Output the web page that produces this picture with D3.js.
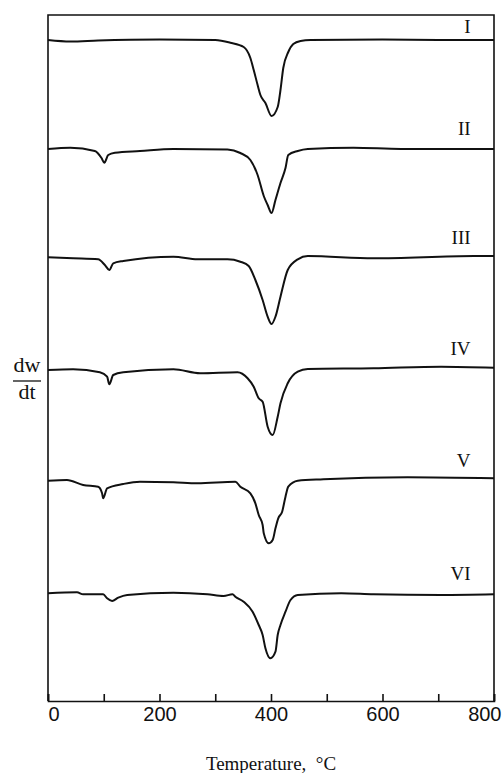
<!DOCTYPE html>
<html>
<head>
<meta charset="utf-8">
<script src="https://cdn.jsdelivr.net/npm/d3@7"></script>
<style>
  body { margin: 0; background: #fff; }
  svg { display: block; font-family: "Liberation Serif", "DejaVu Serif", serif; }
  .frame { fill: none; stroke: #111; stroke-width: 1.6; }
  .curve { fill: none; stroke: #111; stroke-width: 2; stroke-linejoin: round; }
  .tick line { stroke: #111; stroke-width: 1.6; }
  .tick text { fill: #111; font-size: 20px; }
  .name { font-size: 19px; fill: #111; }
</style>
</head>
<body>
<div id="chart"></div>
<script>
// temperature ticks, samples, and curve names
const xTicks = [0, 100, 200, 300, 400, 500, 600, 700, 800]
const xLabels = [0, 200, 400, 600, 800]
const names = ['I', 'II', 'III', 'IV', 'V', 'VI']

// baseline level of every trace (arbitrary dw/dt units)
const offsets = [661, 552, 443, 332, 220, 107]

// [temperature °C, dw/dt deviation from baseline]
const curveI = [[0, 0], [40, -1.5], [90, -0.5], [200, 0.5], [300, 0], [327, -2.7], [351, -7], [363, -18],
  [369, -30], [376, -45], [381, -55], [390, -63], [401, -76], [412, -67], [417, -50], [422, -28],
  [431, -12], [440, -4], [453, -1], [471, 0], [600, 0.5], [700, 0], [800, 0]]
const curveII = [[0, 0], [40, 1.3], [84, -2], [96, -9], [101, -13.7], [108, -6], [120, -3.7], [165, -2],
  [225, 0], [322, -0.5], [345, -4], [363, -11], [376, -26], [387, -47], [394, -56], [401, -64],
  [408, -51], [417, -34], [426, -19], [431, -6], [448, -2], [466, 0], [548, 1.3], [633, 0], [800, 0]]
const curveIII = [[0, 0.7], [45, -0.3], [90, -1.3], [102, -7], [110, -12], [117, -5.3], [135, -3],
  [225, 1.3], [268, -1.3], [322, -1.3], [345, -3.7], [360, -8], [372, -22], [385, -42], [394, -58.7],
  [401, -66], [408, -58.7], [417, -38.7], [430, -12], [448, -1.3], [466, 2], [584, -0.3], [764, 2], [800, 2]]
const curveIV = [[0, -1], [45, -0.3], [93, -3.3], [106, -7.7], [110, -15.3], [117, -6], [135, -3.3],
  [225, -0.3], [273, -4.3], [340, -3.3], [358, -9.3], [369, -17.7], [378, -29.3], [385, -32.7],
  [394, -57.7], [403, -66], [412, -47.7], [417, -34.3], [430, -14.3], [448, -2.7], [466, 0],
  [584, 0.7], [705, 2.3], [800, 1.3]]
const curveV = [[0, 0.3], [34, 1], [63, -4], [90, -5.7], [97, -12.3], [99, -17.3], [106, -7.3], [135, -3],
  [165, -0.7], [225, -1.3], [268, -2.3], [336, -0.7], [345, -5.7], [363, -12.3], [372, -22.3], [378, -34],
  [385, -44], [387, -52.3], [396, -62.3], [403, -59], [408, -47.3], [413, -37.3], [420, -30.7],
  [426, -15.7], [431, -5.7], [448, 0.3], [494, 1.7], [645, 3.7], [800, 2.7]]
const curveVI = [[0, 0.7], [52, 1.7], [63, -0.3], [99, -0.3], [106, -4.3], [115, -7], [126, -3.7],
  [142, -1], [225, 1.3], [286, -0.3], [315, -2], [331, -0.3], [336, -2.7], [351, -7.7], [367, -17.7],
  [378, -31], [385, -41], [390, -54.3], [399, -64.3], [408, -57.7], [412, -41], [417, -31], [426, -17.7],
  [435, -6], [448, -1], [526, 0.7], [584, -0.3], [705, -1], [800, -0.3]]
const curves = [curveI, curveII, curveIII, curveIV, curveV, curveVI]

window.addEventListener('load', () => {
  let width = 502, height = 773
  let margin = {top: 15, right: 8, bottom: 72, left: 48}

  let svg = d3.select('#chart')
    .append('svg')
    .attr('width', width)
    .attr('height', height)
    .attr('xmlns', 'http://www.w3.org/2000/svg')

  let x = d3.scaleLinear()
    .domain([0, 800])
    .range([margin.left, width - margin.right])

  let y = d3.scaleLinear()
    .domain([0, height - margin.top - margin.bottom])
    .range([height - margin.bottom, margin.top])

  // frame: top, left, right
  svg.append('path')
    .attr('class', 'frame')
    .attr('d', `M ${x(0)} ${y.range()[0]} V ${y.range()[1]} H ${x(800)} V ${y.range()[0]}`)

  // bottom axis with inward ticks
  let xAxis = d3.axisBottom(x)
    .tickValues(xTicks)
    .tickSize(-7)
    .tickPadding(12)
    .tickFormat(d => xLabels.includes(d) ? d : '')

  let gx = svg.append('g')
    .attr('transform', `translate(0,${y.range()[0]})`)
    .call(xAxis)
  gx.select('.domain')
    .attr('stroke', '#111')
    .attr('stroke-width', 1.6)
  gx.selectAll('.tick text')
    .attr('font-family', null)
    .attr('font-size', null)
    .attr('y', 20)
    .attr('dy', 0)
  gx.selectAll('.tick text')
    .filter(d => d == 0)
    .attr('text-anchor', 'start')
  gx.selectAll('.tick text')
    .filter(d => d == 800)
    .attr('text-anchor', 'end')
    .attr('dx', 7)

  // traces
  let line = d3.line()
    .x(d => x(d[0]))
    .y(d => y(d[1]))
    .curve(d3.curveMonotoneX)

  curves.forEach((c, i) => {
    svg.append('path')
      .attr('class', 'curve')
      .attr('d', line(c.map(p => [p[0], offsets[i] + p[1]])))

    svg.append('text')
      .attr('class', 'name')
      .attr('x', x(758))
      .attr('y', Math.max(y(offsets[i]) - 14, margin.top + 18))
      .attr('text-anchor', 'end')
      .text(names[i])
  })

  // y label as a fraction
  let ylab = svg.append('g')
    .attr('transform', 'translate(27,0)')
  ylab.append('text')
    .attr('y', 372)
    .attr('text-anchor', 'middle')
    .attr('font-size', 22)
    .attr('fill', '#111')
    .text('dw')
  ylab.append('line')
    .attr('x1', -14).attr('x2', 14)
    .attr('y1', 381).attr('y2', 381)
    .attr('stroke', '#111')
    .attr('stroke-width', 1.3)
  ylab.append('text')
    .attr('y', 399)
    .attr('text-anchor', 'middle')
    .attr('font-size', 22)
    .attr('fill', '#111')
    .text('dt')

  svg.append('text')
    .attr('x', (x(0) + x(800)) / 2)
    .attr('y', 770)
    .attr('text-anchor', 'middle')
    .attr('font-size', 19)
    .attr('fill', '#111')
    .text('Temperature,\u00a0\u00a0°C')
})
</script>
</body>
</html>
